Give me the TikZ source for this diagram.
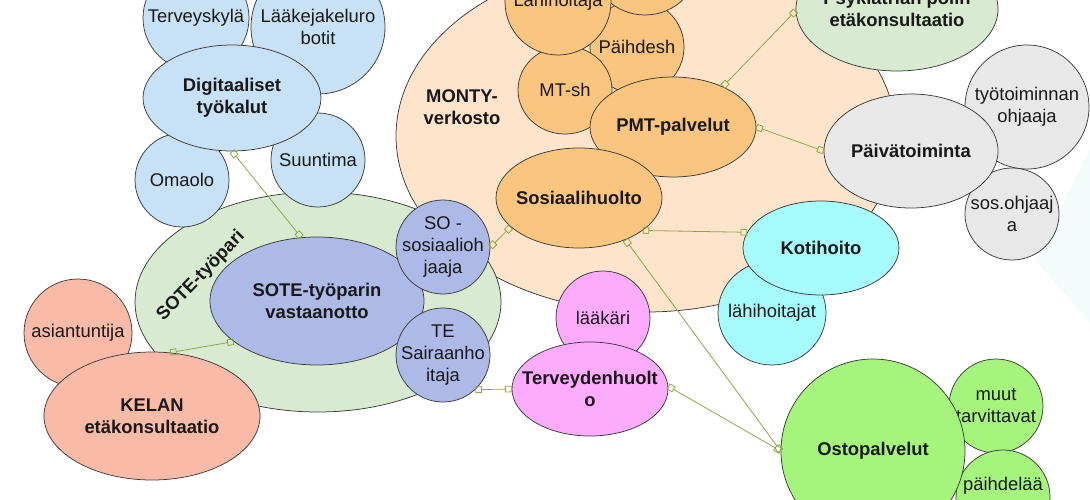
\documentclass[tikz,border=0pt]{standalone}
\usepackage{fontspec}
\setmainfont{Liberation Sans}
\usetikzlibrary{shapes.geometric,arrows.meta}
\definecolor{cblue}{RGB}{199,225,246}
\definecolor{cgreen}{RGB}{216,235,208}
\definecolor{cperi}{RGB}{173,186,232}
\definecolor{csalmon}{RGB}{249,186,167}
\definecolor{cpeach}{RGB}{253,228,203}
\definecolor{corange}{RGB}{250,197,126}
\definecolor{cgray}{RGB}{232,232,232}
\definecolor{ccyan}{RGB}{166,251,252}
\definecolor{cpink}{RGB}{253,171,253}
\definecolor{clime}{RGB}{165,244,124}
\definecolor{cfaint}{RGB}{243,251,251}
\definecolor{edgecol}{RGB}{60,60,60}
\definecolor{conncol}{RGB}{141,168,68}
\definecolor{txtcol}{RGB}{25,25,25}
\newcommand\bsize{\fontsize{18.4}{21.8}\selectfont}
\tikzset{
  sq/.tip={Square[open,length=6.5pt,width=6.5pt]},
  bub/.style={ellipse, draw=edgecol, line width=0.75pt, inner sep=0pt},
  sz/.style 2 args={minimum width=#1pt, minimum height=#2pt},
  rt/.style={font=\bsize, text=txtcol, align=center, inner sep=0pt},
  bt/.style={rt, font=\bfseries\bsize},
  tx/.style={label={[rt]center:{#1}}},
  btx/.style={label={[bt]center:{#1}}},
  conn/.style={draw=conncol, line width=0.8pt, sq-sq}
}
\begin{document}
\begin{tikzpicture}[x=1pt,y=-1pt]
\useasboundingbox (0,0) rectangle (1090,500);
\clip (0,0) rectangle (1090,500);
\fill[cfaint] (1035,260) -- (1090,150) -- (1090,322) -- cycle;
% big groups
\node[bub, fill=cpeach, sz={500}{352}] (monty) at (646,136) {};
\node[bt] (montyl) at (462,107) {MONTY-\\verkosto};
\node[bub, fill=cgreen, sz={366}{220}] (sote) at (318,302) {};
\node[bt, rotate=46] (sotel) at (201,276) {SOTE-työpari};
% digital tools
\node[bub, fill=cblue, sz={106}{106}, tx={Terveyskylä}] (tk) at (196,18) {};
\node[bub, fill=cblue, sz={134}{134}, tx={Lääkejakeluro\\botit}] (ljr) at (318,27) {};
\node[bub, fill=cblue, sz={94}{94}, tx={Omaolo}] (omaolo) at (182,180) {};
\node[bub, fill=cblue, sz={94}{94}, tx={Suuntima}] (suun) at (318,160) {};
\node[bub, fill=cblue, sz={178}{106}, btx={Digitaaliset\\työkalut}] (dig) at (232,98) {};
% SOTE pair
\node[bub, fill=cperi, sz={214}{128}, btx={SOTE-työparin\\vastaanotto}] (vast) at (317,301) {};
\node[bub, fill=cperi, sz={94}{94}, tx={SO -\\sosiaalioh\\jaaja}] (so) at (443,247) {};
\node[bub, fill=cperi, sz={94}{94}, tx={TE\\Sairaanho\\itaja}] (te) at (443,355) {};
% KELA
\node[bub, fill=csalmon, sz={108}{108}, tx={asiantuntija}] (asi) at (78,333) {};
\node[bub, fill=csalmon, sz={216}{128}, btx={KELAN\\etäkonsultaatio}] (kela) at (152,416) {};
% MONTY inner
\node[bub, fill=corange, sz={94}{94}, tx={Päihdesh}] (paih) at (637,47) {};
\node[bub, fill=corange, sz={110}{110}] (topc) at (645,-40) {};
\node[bub, fill=corange, sz={94}{88}, tx={MT-sh}] (mtsh) at (565,90) {};
\node[bub, fill=corange, sz={106}{106}, tx={Lähihoitaja}] (lahi) at (558,2) {};
\node[bub, fill=corange, sz={166}{100}, btx={PMT-palvelut}] (pmt) at (673,127) {};
\node[bub, fill=corange, sz={166}{100}, btx={Sosiaalihuolto}] (sos) at (579,198) {};
% right side
\node[bub, fill=cgreen, sz={202}{124}, btx={Psykiatrian polin\\etäkonsultaatio}] (psyk) at (897,9) {};
\node[bub, fill=cgray, sz={124}{124}, tx={työtoiminnan\\ohjaaja}] (tyo) at (1027,107) {};
\node[bub, fill=cgray, sz={94}{92}, tx={sos.ohjaaj\\a}] (soso) at (1012,214) {};
\node[bub, fill=cgray, sz={174}{114}, btx={Päivätoiminta}] (paiv) at (911,151) {};
\node[bub, fill=ccyan, sz={108}{104}, tx={lähihoitajat}] (lhh) at (772,313) {};
\node[bub, fill=ccyan, sz={156}{94}, btx={Kotihoito}] (koti) at (821,248) {};
\node[bub, fill=cpink, sz={94}{94}, tx={lääkäri}] (laak) at (603,318) {};
\node[bub, fill=cpink, sz={156}{94}, btx={Terveydenhuolt\\o}] (terv) at (590,389) {};
\node[bub, fill=clime, sz={94}{94}, tx={muut\\tarvittavat}] (muut) at (996,406) {};
\node[bub, fill=clime, sz={94}{94}] (paihl) at (1003,497) {};
\node[rt] (paihlt) at (1003,486) {päihdelää};
\node[bub, fill=clime, sz={184}{184}, btx={Ostopalvelut}] (osto) at (873,451) {};
% connectors
\draw[conn] (dig.south) -- (vast.104);
\draw[conn] (kela.74) -- (vast.206);
\draw[conn] (so.0) -- (sos.203);
\draw[conn] (te.-47) -- (terv.180);
\draw[conn] (sos.-27) -- (koti.168);
\draw[conn] (sos.-42) -- (osto.180);
\draw[conn] (terv.2) -- (osto.180);
\draw[conn] (pmt.39) -- (psyk.181);
\draw[conn] (pmt.0) -- (paiv.180);
\end{tikzpicture}
\end{document}
